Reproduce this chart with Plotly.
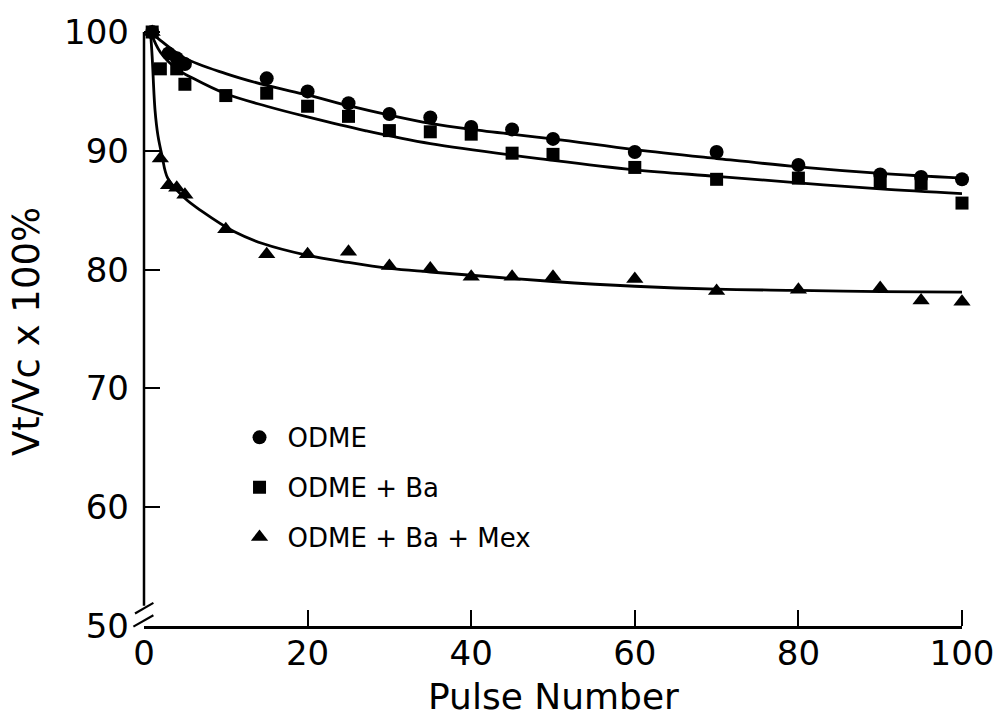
import plotly.graph_objects as go

# Measured retention points (pulse number vs Vt/Vc x 100%)
pulse_odme = [1, 3, 4, 5, 15, 20, 25, 30, 35, 40, 45, 50, 60, 70, 80, 90, 95, 100]
odme = [100, 98.2, 97.8, 97.3, 96.1, 95.0, 94.0, 93.1, 92.8, 92.0, 91.8, 91.0,
        89.9, 89.9, 88.8, 88.0, 87.8, 87.6]

pulse_ba = [1, 2, 4, 5, 10, 15, 20, 25, 30, 35, 40, 45, 50, 60, 70, 80, 90, 95, 100]
odme_ba = [100, 96.9, 96.9, 95.6, 94.65, 94.85, 93.75, 92.9, 91.7, 91.6, 91.4,
           89.8, 89.7, 88.6, 87.6, 87.7, 87.4, 87.25, 85.6]

pulse_mex = [1, 2, 3, 4, 5, 10, 15, 20, 25, 30, 35, 40, 45, 50, 60, 70, 80, 90, 95, 100]
odme_ba_mex = [100, 89.35, 87.1, 86.9, 86.3, 83.4, 81.3, 81.3, 81.5, 80.3, 80.1,
               79.4, 79.4, 79.4, 79.2, 78.2, 78.3, 78.45, 77.4, 77.3]

# Smooth trend curves, sampled along each fit
fit_x_odme = [0.8, 2, 5, 10, 15, 20, 25, 30, 35, 40, 50, 60, 70, 80, 90, 100]
fit_odme = [100, 99.3, 97.8, 96.5, 95.5, 94.7, 93.8, 93.0, 92.3, 91.8, 91.0,
            90.1, 89.35, 88.65, 88.1, 87.7]
fit_x_ba = [0.8, 2, 4, 6, 10, 15, 20, 27, 35, 50, 60, 70, 80, 90, 100]
fit_ba = [100, 98.3, 96.9, 96.1, 94.8, 93.75, 92.85, 91.7, 90.6, 89.2, 88.4,
          87.85, 87.3, 86.8, 86.4]
fit_x_mex = [0.8, 1.0, 1.35, 1.7, 2.2, 2.9, 5, 7.1, 11, 14.5, 20, 25, 30, 35,
             50, 60, 70, 80, 90, 100]
fit_mex = [100, 97.9, 93.4, 91.3, 89.6, 87.7, 86.0, 84.9, 83.2, 82.2, 81.2,
           80.6, 80.1, 79.8, 79.0, 78.6, 78.35, 78.25, 78.15, 78.1]

x_ticks = [0, 20, 40, 60, 80, 100]
y_ticks = [50, 60, 70, 80, 90, 100]

X_RANGE = [0, 100]
Y_RANGE = [50, 100]

FONT = "DejaVu Sans"
INK = "black"

fig = go.Figure()

series = [
    ("ODME", pulse_odme, odme, fit_x_odme, fit_odme, "circle", 14),
    ("ODME + Ba", pulse_ba, odme_ba, fit_x_ba, fit_ba, "square", 13),
    ("ODME + Ba + Mex", pulse_mex, odme_ba_mex, fit_x_mex, fit_mex, "triangle-up", 15),
]

for name, fx, fy, lx, ly, sym, size in series:
    fig.add_trace(go.Scatter(
        x=lx, y=ly, mode="lines", showlegend=False, hoverinfo="skip",
        line=dict(color=INK, width=2.8, shape="spline", smoothing=1.0),
        cliponaxis=False,
    ))

for i, (name, fx, fy, lx, ly, sym, size) in enumerate(series):
    fig.add_trace(go.Scatter(
        x=fx, y=fy, mode="markers", name=name, legendgroup=f"g{i}",
        marker=dict(symbol=sym, size=size, color=INK, line=dict(width=0)),
        cliponaxis=False,
    ))


def to_paper_x(v):
    return (v - X_RANGE[0]) / (X_RANGE[1] - X_RANGE[0])


def to_paper_y(v):
    return (v - Y_RANGE[0]) / (Y_RANGE[1] - Y_RANGE[0])


# Broken y axis: vertical line stops short of the origin, two slash marks
shapes = [
    dict(type="line", xref="paper", yref="paper",
         x0=to_paper_x(0), x1=to_paper_x(0), y0=to_paper_y(51.7), y1=to_paper_y(100),
         line=dict(color=INK, width=2.5)),
    dict(type="line", xref="paper", yref="paper",
         x0=to_paper_x(-1.1), x1=to_paper_x(1.15), y0=to_paper_y(51.05), y1=to_paper_y(51.95),
         line=dict(color=INK, width=2.2)),
    dict(type="line", xref="paper", yref="paper",
         x0=to_paper_x(-1.3), x1=to_paper_x(1.15), y0=to_paper_y(49.95), y1=to_paper_y(50.9),
         line=dict(color=INK, width=2.2)),
]

fig.update_layout(
    width=1006, height=719,
    margin=dict(l=144, r=44, t=25, b=93),
    paper_bgcolor="white", plot_bgcolor="white",
    font=dict(family=FONT, color=INK, size=34),
    shapes=shapes,
    showlegend=True,
    legend=dict(
        x=0.107, y=0.357, xanchor="left", yanchor="top",
        bgcolor="rgba(0,0,0,0)", borderwidth=0,
        font=dict(family=FONT, size=26, color=INK),
        tracegroupgap=13, itemwidth=46,
    ),
    annotations=[
        dict(text="Pulse Number", xref="paper", yref="paper",
             x=0.5, y=-0.119, xanchor="center", yanchor="middle",
             showarrow=False, font=dict(family=FONT, size=36, color=INK)),
        dict(text="Vt/Vc x 100%", xref="paper", yref="paper",
             x=-0.143, y=0.495, xanchor="center", yanchor="middle", textangle=-90,
             showarrow=False, font=dict(family=FONT, size=37, color=INK)),
    ],
)

fig.update_xaxes(
    range=X_RANGE, tickmode="array", tickvals=x_ticks,
    ticktext=[str(v) for v in x_ticks],
    ticks="", showgrid=False, zeroline=False,
    showline=True, linecolor=INK, linewidth=2.5,
    ticklabelstandoff=-5,
    tickfont=dict(family=FONT, size=34, color=INK),
    minor=dict(tickmode="array", tickvals=x_ticks[1:], ticks="inside",
               ticklen=16, tickwidth=2.2, tickcolor=INK, showgrid=False),
)

fig.update_yaxes(
    range=Y_RANGE, tickmode="array", tickvals=y_ticks,
    ticktext=[str(v) for v in y_ticks],
    ticks="", showgrid=False, zeroline=False, showline=False,
    ticklabelstandoff=14,
    tickfont=dict(family=FONT, size=34, color=INK),
    minor=dict(tickmode="array", tickvals=y_ticks[1:], ticks="inside",
               ticklen=16, tickwidth=2.2, tickcolor=INK, showgrid=False),
)

fig.write_html("out.html")
